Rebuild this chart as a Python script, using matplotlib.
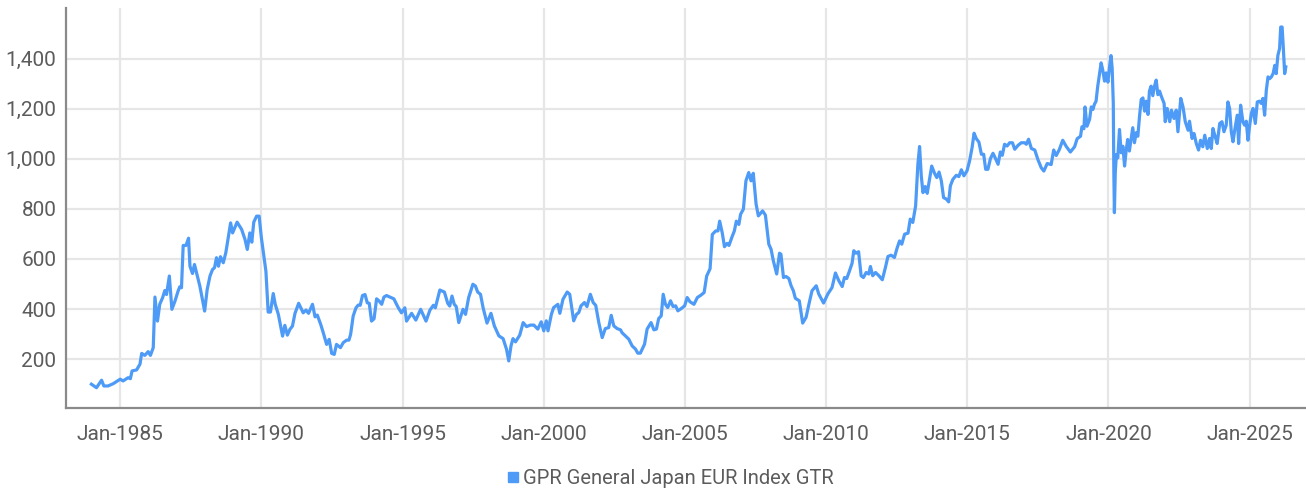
import matplotlib
matplotlib.use("Agg")
import matplotlib.pyplot as plt
from matplotlib.lines import Line2D
from matplotlib.ticker import FuncFormatter

plt.rcParams['font.family'] = ['Roboto', 'DejaVu Sans']

# ---- data (decimal year, index value) ----
years = [
    1983.98, 1984.16, 1984.34, 1984.42, 1984.57, 1984.75, 1985.0, 1985.1, 1985.28, 1985.36,
    1985.42, 1985.58, 1985.7, 1985.76, 1985.87, 1985.99, 1986.07, 1986.17, 1986.23, 1986.32,
    1986.4, 1986.5, 1986.58, 1986.64, 1986.74, 1986.83, 1986.94, 1987.05, 1987.11, 1987.17,
    1987.23, 1987.33, 1987.42, 1987.47, 1987.56, 1987.63, 1987.82, 1987.99, 1988.08, 1988.18,
    1988.27, 1988.34, 1988.41, 1988.48, 1988.55, 1988.65, 1988.74, 1988.91, 1988.98, 1989.14,
    1989.3, 1989.42, 1989.5, 1989.59, 1989.66, 1989.73, 1989.83, 1989.92, 1990.0, 1990.16,
    1990.24, 1990.32, 1990.42, 1990.49, 1990.6, 1990.75, 1990.83, 1990.92, 1991.01, 1991.1,
    1991.19, 1991.32, 1991.48, 1991.58, 1991.67, 1991.81, 1991.9, 1991.98, 1992.1, 1992.19,
    1992.31, 1992.4, 1992.49, 1992.58, 1992.66, 1992.8, 1992.9, 1993.02, 1993.1, 1993.16,
    1993.25, 1993.35, 1993.43, 1993.5, 1993.58, 1993.67, 1993.75, 1993.82, 1993.9, 1993.99,
    1994.08, 1994.17, 1994.26, 1994.34, 1994.43, 1994.61, 1994.69, 1994.85, 1994.96, 1995.08,
    1995.14, 1995.32, 1995.47, 1995.64, 1995.83, 1995.97, 1996.09, 1996.16, 1996.32, 1996.48,
    1996.6, 1996.67, 1996.75, 1996.83, 1996.9, 1996.99, 1997.14, 1997.23, 1997.34, 1997.49,
    1997.58, 1997.66, 1997.76, 1997.85, 1997.99, 1998.13, 1998.25, 1998.41, 1998.56, 1998.68,
    1998.76, 1998.84, 1998.91, 1999.0, 1999.15, 1999.27, 1999.39, 1999.53, 1999.65, 1999.79,
    1999.91, 2000.0, 2000.09, 2000.15, 2000.27, 2000.35, 2000.5, 2000.57, 2000.68, 2000.83,
    2000.92, 2001.06, 2001.16, 2001.24, 2001.32, 2001.44, 2001.53, 2001.65, 2001.75, 2001.84,
    2001.95, 2002.07, 2002.18, 2002.3, 2002.39, 2002.48, 2002.6, 2002.72, 2002.77, 2002.89,
    2003.01, 2003.13, 2003.25, 2003.33, 2003.42, 2003.57, 2003.66, 2003.8, 2003.9, 2003.99,
    2004.07, 2004.16, 2004.23, 2004.31, 2004.39, 2004.49, 2004.58, 2004.67, 2004.75, 2004.87,
    2004.99, 2005.08, 2005.18, 2005.32, 2005.44, 2005.56, 2005.68, 2005.77, 2005.89, 2005.97,
    2006.09, 2006.17, 2006.23, 2006.32, 2006.4, 2006.49, 2006.56, 2006.67, 2006.75, 2006.82,
    2006.91, 2006.97, 2007.07, 2007.16, 2007.26, 2007.34, 2007.42, 2007.52, 2007.6, 2007.75,
    2007.85, 2007.97, 2008.05, 2008.13, 2008.25, 2008.35, 2008.4, 2008.49, 2008.58, 2008.68,
    2008.76, 2008.84, 2008.91, 2009.05, 2009.17, 2009.29, 2009.41, 2009.5, 2009.65, 2009.74,
    2009.91, 2010.06, 2010.21, 2010.33, 2010.45, 2010.57, 2010.65, 2010.73, 2010.83, 2010.92,
    2010.98, 2011.06, 2011.15, 2011.24, 2011.32, 2011.42, 2011.51, 2011.57, 2011.65, 2011.75,
    2011.87, 2011.99, 2012.1, 2012.19, 2012.3, 2012.42, 2012.51, 2012.6, 2012.68, 2012.78,
    2012.9, 2012.98, 2013.07, 2013.17, 2013.25, 2013.31, 2013.37, 2013.43, 2013.51, 2013.58,
    2013.66, 2013.74, 2013.84, 2013.92, 2014.0, 2014.08, 2014.16, 2014.26, 2014.34, 2014.4,
    2014.49, 2014.61, 2014.7, 2014.79, 2014.88, 2014.99, 2015.08, 2015.17, 2015.24, 2015.32,
    2015.41, 2015.5, 2015.58, 2015.65, 2015.73, 2015.82, 2015.91, 2016.0, 2016.09, 2016.17,
    2016.24, 2016.32, 2016.41, 2016.5, 2016.6, 2016.68, 2016.8, 2016.91, 2017.03, 2017.09,
    2017.17, 2017.27, 2017.39, 2017.5, 2017.62, 2017.71, 2017.83, 2017.97, 2018.06, 2018.15,
    2018.26, 2018.38, 2018.5, 2018.65, 2018.8, 2018.89, 2019.01, 2019.06, 2019.13, 2019.17,
    2019.24, 2019.33, 2019.39, 2019.45, 2019.5, 2019.56, 2019.62, 2019.68, 2019.74, 2019.8,
    2019.86, 2019.92, 2019.98, 2020.04, 2020.09, 2020.13, 2020.17, 2020.19, 2020.21, 2020.24,
    2020.28, 2020.33, 2020.39, 2020.45, 2020.51, 2020.57, 2020.63, 2020.68, 2020.74, 2020.8,
    2020.86, 2020.92, 2020.98, 2021.04, 2021.1, 2021.16, 2021.22, 2021.28, 2021.34, 2021.4,
    2021.45, 2021.51, 2021.57, 2021.63, 2021.69, 2021.75, 2021.81, 2021.87, 2021.97, 2022.01,
    2022.08, 2022.17, 2022.23, 2022.32, 2022.4, 2022.46, 2022.56, 2022.64, 2022.72, 2022.82,
    2022.87, 2022.96, 2023.03, 2023.11, 2023.19, 2023.26, 2023.34, 2023.41, 2023.5, 2023.58,
    2023.64, 2023.7, 2023.78, 2023.85, 2023.94, 2024.02, 2024.09, 2024.17, 2024.23, 2024.29,
    2024.35, 2024.41, 2024.47, 2024.56, 2024.61, 2024.68, 2024.76, 2024.82, 2024.88, 2024.94,
    2025.0, 2025.06, 2025.12, 2025.2, 2025.27, 2025.35, 2025.41, 2025.47, 2025.53, 2025.59,
    2025.65, 2025.71, 2025.77, 2025.83, 2025.89, 2025.94, 2026.0, 2026.06, 2026.1, 2026.15,
    2026.19, 2026.24, 2026.28,
]
values = [
    100, 86, 116, 93, 93, 102, 120, 113, 126, 122,
    153, 157, 180, 223, 215, 230, 215, 246, 448, 352,
    419, 445, 474, 458, 532, 399, 432, 472, 489, 485,
    654, 654, 683, 571, 542, 578, 492, 392, 478, 532,
    558, 565, 605, 571, 609, 585, 625, 744, 704, 747,
    718, 678, 638, 704, 667, 747, 771, 771, 684, 551,
    388, 388, 462, 419, 379, 292, 335, 296, 319, 332,
    383, 423, 385, 396, 383, 419, 369, 376, 339, 306,
    259, 279, 223, 219, 259, 246, 266, 276, 276, 299,
    372, 405, 416, 415, 454, 458, 425, 423, 352, 361,
    441, 432, 419, 448, 454, 445, 441, 405, 385, 405,
    352, 383, 356, 399, 352, 396, 415, 405, 476, 468,
    423, 412, 452, 419, 410, 346, 399, 379, 446, 499,
    492, 468, 459, 406, 344, 383, 333, 293, 282, 240,
    193, 253, 282, 269, 296, 346, 330, 336, 336, 320,
    349, 313, 353, 313, 379, 406, 419, 383, 439, 468,
    459, 353, 379, 386, 413, 426, 410, 459, 426, 415,
    346, 286, 322, 326, 375, 333, 322, 317, 306, 293,
    280, 253, 240, 224, 224, 260, 320, 346, 317, 320,
    362, 373, 459, 419, 406, 433, 410, 413, 393, 402,
    413, 446, 429, 419, 446, 455, 466, 532, 561, 698,
    712, 712, 751, 705, 649, 662, 654, 689, 712, 751,
    738, 778, 799, 912, 945, 912, 942, 819, 772, 792,
    775, 659, 639, 593, 540, 623, 619, 526, 530, 522,
    493, 473, 443, 433, 344, 367, 429, 473, 493, 460,
    424, 460, 486, 544, 513, 490, 526, 522, 553, 583,
    633, 623, 629, 533, 526, 546, 540, 570, 533, 546,
    533, 517, 566, 610, 615, 606, 642, 672, 659, 699,
    703, 759, 746, 812, 978, 1049, 932, 865, 889, 862,
    916, 971, 942, 925, 947, 912, 845, 839, 828, 892,
    918, 934, 929, 956, 932, 952, 991, 1045, 1102, 1080,
    1067, 1018, 1018, 958, 958, 1001, 1022, 1001, 978, 1027,
    1014, 1058, 1051, 1064, 1064, 1038, 1054, 1064, 1064, 1058,
    1078, 1041, 1035, 997, 964, 951, 981, 977, 1035, 1013,
    1037, 1074, 1050, 1027, 1048, 1080, 1090, 1128, 1120, 1207,
    1130, 1157, 1207, 1197, 1217, 1230, 1290, 1336, 1383, 1353,
    1310, 1343, 1306, 1369, 1412, 1363, 1223, 944, 785, 944,
    1017, 1004, 1117, 1024, 1050, 971, 1037, 1077, 1031, 1077,
    1124, 1064, 1104, 1090, 1170, 1237, 1243, 1190, 1230, 1177,
    1270, 1290, 1252, 1290, 1314, 1256, 1270, 1250, 1221, 1148,
    1201, 1148, 1194, 1161, 1194, 1108, 1241, 1207, 1148, 1114,
    1150, 1081, 1101, 1061, 1035, 1074, 1048, 1094, 1041, 1081,
    1041, 1121, 1088, 1061, 1141, 1148, 1108, 1134, 1227, 1201,
    1108, 1068, 1114, 1174, 1061, 1214, 1148, 1134, 1150, 1074,
    1134, 1181, 1201, 1141, 1227, 1230, 1221, 1241, 1174, 1274,
    1327, 1320, 1327, 1340, 1373, 1340, 1413, 1440, 1526, 1526,
    1447, 1340, 1367,
]

tick_years = [1985, 1990, 1995, 2000, 2005, 2010, 2015, 2020, 2025]
tick_labels = ["Jan-1985", "Jan-1990", "Jan-1995", "Jan-2000", "Jan-2005",
               "Jan-2010", "Jan-2015", "Jan-2020", "Jan-2025"]
y_ticks = [200, 400, 600, 800, 1000, 1200, 1400]
series_name = "GPR General Japan EUR Index GTR"

LINE = "#4d9bf7"
TXT = "#5c5c5c"
GRID = "#e6e6e6"

W, H = 1306, 493
fig = plt.figure(figsize=(W / 100, H / 100), dpi=100)
ax = fig.add_axes([66 / W, 1 - 408 / H, (1305 - 66) / W, 400 / H])

ax.plot(years, values, color=LINE, lw=2.3, solid_joinstyle='round', zorder=3)

ax.set_xlim(1983.08, 2026.96)
ax.set_ylim(5, 1602)
ax.set_xticks(tick_years)
ax.set_xticklabels(tick_labels)
ax.set_yticks(y_ticks)
ax.yaxis.set_major_formatter(FuncFormatter(lambda v, p: f"{int(v):,}"))

ax.grid(True, color=GRID, lw=1.6, zorder=0)
ax.set_axisbelow(True)
ax.tick_params(axis='both', length=0, labelsize=15, colors=TXT)
ax.tick_params(axis='x', pad=12)
ax.tick_params(axis='y', pad=7)

for s in ['top', 'right']:
    ax.spines[s].set_visible(False)
for s in ['left', 'bottom']:
    ax.spines[s].set_color('#8a8a8a')
    ax.spines[s].set_linewidth(1.6)

handle = Line2D([], [], marker='s', linestyle='none', color=LINE, markersize=7.5)
leg = fig.legend([handle], [series_name], loc='center',
                 bbox_to_anchor=(669 / W, 1 - 479 / H), frameon=False,
                 handletextpad=0.1, handlelength=0.8, borderpad=0,
                 prop={'size': 14.5})
for t in leg.get_texts():
    t.set_color(TXT)

fig.savefig("out.png", dpi=100, facecolor='white')
